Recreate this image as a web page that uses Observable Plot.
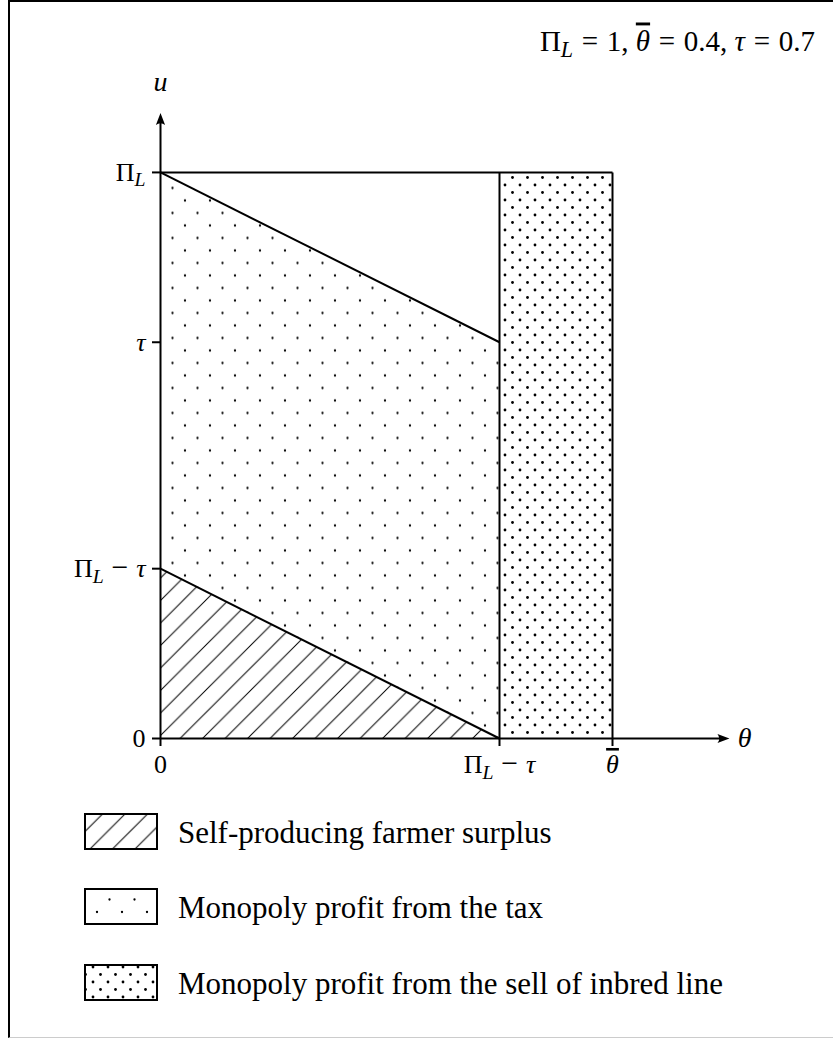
<!DOCTYPE html>
<html>
<head>
<meta charset="utf-8">
<script src="https://cdn.jsdelivr.net/npm/d3@7"></script>
<script src="https://cdn.jsdelivr.net/npm/@observablehq/plot@0.6"></script>
<style>
  html, body { margin: 0; padding: 0; background: #fff; }
  #wrap { position: relative; width: 833px; height: 1038px; overflow: hidden; font-family: "Liberation Serif", serif; }
  #chart { position: absolute; left: 0; top: 0; }
  #legend { position: absolute; left: 0; top: 790px; }
  #frame { position: absolute; left: 8px; top: 0px; width: 2000px; height: 1035px;
           border-left: 2.5px solid #000; border-top: 2.5px solid #000; border-bottom: 1px solid #ccc; pointer-events: none; }
</style>
</head>
<body>
<div id="wrap">
  <div id="chart"></div>
  <div id="legend"></div>
  <div id="frame"></div>
</div>
<script>
// ---- parameters / data ----
const titleText = "Π_L = 1, θ̄ = 0.4, τ = 0.7";
const xTicks = [0, 0.3, 0.4];
const xTickLabels = ["0", "Π_L − τ", "θ̄"];
const yTicks = [0, 0.3, 0.7, 1];
const yTickLabels = ["0", "Π_L − τ", "τ", "Π_L"];

// Self-producing farmer surplus (triangle), as area between lo and hi
const surplusTheta = [0, 0.3];
const surplusLo = [0, 0];
const surplusHi = [0.3, 0];

// Monopoly profit from the tax
const taxTheta = [0, 0.3];
const taxLo = [0.3, 0];
const taxHi = [1, 0.7];

// Monopoly profit from the sell of inbred line
const inbredTheta = [0.3, 0.4];
const inbredLo = [0, 0];
const inbredHi = [1, 1];

// boundary segments
const segX1 = [0, 0, 0.3, 0.4, 0];
const segY1 = [1, 1, 0, 0, 0.3];
const segX2 = [0.4, 0.3, 0.3, 0.4, 0.3];
const segY2 = [1, 0.7, 1, 1, 0];

// axes extents
const xAxisEnd = 0.5035;
const yAxisEnd = 1.105;

const legendLabels = [
  "Self-producing farmer surplus",
  "Monopoly profit from the tax",
  "Monopoly profit from the sell of inbred line"
];
const legendFills = ["hatch2", "sparse2", "dense2"];

// ---- build tables ----
const toRows = (t, lo, hi) => t.map((d, i) => ({t: d, lo: lo[i], hi: hi[i]}));
const surplus = toRows(surplusTheta, surplusLo, surplusHi);
const tax = toRows(taxTheta, taxLo, taxHi);
const inbred = toRows(inbredTheta, inbredLo, inbredHi);
const segs = segX1.map((d, i) => ({x1: d, y1: segY1[i], x2: segX2[i], y2: segY2[i]}));

const arrowSymbol = {
  draw(context, size) {
    context.moveTo(0, 0);
    context.lineTo(-12, -4.6);
    context.quadraticCurveTo(-8.5, 0, -12, 4.6);
    context.closePath();
  }
};

const TICK_FS = 26, LABEL_FS = 28, TITLE_FS = 29;
const W = 833, H = 790;
const plot = Plot.plot({
  width: W,
  height: H,
  marginLeft: 160,
  marginRight: 51.5,
  marginTop: 104,
  marginBottom: 52,
  style: {background: "transparent", fontFamily: "Liberation Serif, serif"},
  x: {domain: [0, 0.55]},
  y: {domain: [0, 1.12]},
  marks: [
    Plot.areaY(tax, {x: "t", y1: "lo", y2: "hi", fill: "url(#sparse)"}),
    Plot.areaY(surplus, {x: "t", y1: "lo", y2: "hi", fill: "url(#hatch)"}),
    Plot.areaY(inbred, {x: "t", y1: "lo", y2: "hi", fill: "url(#dense)"}),
    Plot.link(segs, {x1: "x1", y1: "y1", x2: "x2", y2: "y2", stroke: "#000", strokeWidth: 2}),
    Plot.link([{a: 0}], {x1: 0, y1: 0, x2: xAxisEnd - 0.008, y2: 0, stroke: "#000", strokeWidth: 2}),
    Plot.link([{a: 0}], {x1: 0, y1: 0, x2: 0, y2: yAxisEnd - 0.014, stroke: "#000", strokeWidth: 2}),
    Plot.dot([{a: 0}], {x: xAxisEnd, y: 0, symbol: arrowSymbol, fill: "#000", stroke: "none", r: 5}),
    Plot.dot([{a: 0}], {x: 0, y: yAxisEnd, symbol: arrowSymbol, rotate: -90, fill: "#000", stroke: "none", r: 5}),
    Plot.axisX({ticks: xTicks, tickFormat: d => xTickLabels[xTicks.indexOf(d)], tickSize: 8, tickPadding: 8,
      label: null, fontSize: TICK_FS, strokeWidth: 2, stroke: "#000", fill: "#000"}),
    Plot.axisY({ticks: yTicks, tickFormat: d => yTickLabels[yTicks.indexOf(d)], tickSize: 8, tickPadding: 7,
      label: null, fontSize: TICK_FS, strokeWidth: 2, stroke: "#000", fill: "#000"}),
    Plot.text(["θ"], {x: 0.517, y: 0, text: d => d, fontSize: LABEL_FS, fill: "#000", textAnchor: "middle"}),
    Plot.text(["u"], {x: 0, y: 1.159, text: d => d, fontSize: LABEL_FS, fill: "#000", textAnchor: "middle"}),
    Plot.text([titleText], {frameAnchor: "top-right", text: d => d, fontSize: TITLE_FS, fill: "#000",
      textAnchor: "end", lineAnchor: "bottom", dx: 33, dy: -54})
  ]
});

const defs = `
<pattern id="sparse" patternUnits="userSpaceOnUse" x="160" y="725.5" width="25" height="25">
  <circle cx="0" cy="0" r="1.15"/><circle cx="25" cy="0" r="1.15"/><circle cx="0" cy="25" r="1.15"/><circle cx="25" cy="25" r="1.15"/><circle cx="12.5" cy="12.5" r="1.15"/>
</pattern>
<pattern id="dense" patternUnits="userSpaceOnUse" x="505" y="575" width="15" height="15">
  <circle cx="0" cy="0" r="1.4"/><circle cx="15" cy="0" r="1.4"/><circle cx="0" cy="15" r="1.4"/><circle cx="15" cy="15" r="1.4"/><circle cx="7.5" cy="7.5" r="1.4"/>
</pattern>
<pattern id="hatch" patternUnits="userSpaceOnUse" x="160" y="736" width="22.5" height="22.5">
  <path d="M0,22.5L22.5,0M-2,2L2,-2M20.5,24.5L24.5,20.5" stroke="#000" stroke-width="1"/>
</pattern>`;
d3.select(plot).insert("defs", ":first-child").html(defs);

// math-like typesetting of labels
function texify(node, size) {
  const t = node.textContent;
  if (!t) return;
  const tokens = t.match(/_.|\s[=−]\s|θ\u0304|[a-zτθ]|./gu);
  const el = d3.select(node);
  el.text(null).attr("font-size", size);
  let pendDx = 0, pendDy = 0;
  const add = (txt) => {
    const s = el.append("tspan").text(txt);
    if (pendDx) { s.attr("dx", pendDx); pendDx = 0; }
    if (pendDy) { s.attr("dy", pendDy); pendDy = 0; }
    return s;
  };
  for (const tok of tokens) {
    if (tok.startsWith("_")) {
      const d = pendDy;
      pendDy = 0;
      add(tok.slice(1)).attr("font-style", "italic").attr("font-size", size * 0.76)
        .attr("dy", d + size * 0.22);
      pendDy = -size * 0.22;
      continue;
    }
    if (/^\s[=−]\s$/.test(tok)) {
      pendDx += size * 0.3;
      add(tok.trim()).attr("font-size", tok.trim() === "−" ? size * 1.15 : size);
      pendDx = size * 0.3;
    } else if (tok === "θ\u0304") {
      // theta with a bar over it
      add("θ").attr("font-style", "italic").style("text-decoration", "overline");
    } else {
      const s = add(tok);
      if (/[a-zτθ]/.test(tok)) s.attr("font-style", "italic");
    }
  }
}
const svgSel = d3.select(plot);
svgSel.selectAll('g[aria-label="x-axis tick label"] text, g[aria-label="y-axis tick label"] text')
  .each(function() { texify(this, TICK_FS); });
svgSel.selectAll('g[aria-label="text"] text').each(function() {
  const isTitle = this.textContent.length > 3;
  texify(this, isTitle ? TITLE_FS : LABEL_FS);
});
document.getElementById("chart").appendChild(plot);

// ---- legend ----
const lg = d3.select("#legend").append("svg").attr("width", 833).attr("height", 248)
  .style("font-family", "Liberation Serif, serif");
lg.append("defs").html(`
<pattern id="hatch2" patternUnits="userSpaceOnUse" x="84" y="20" width="22.5" height="22.5">
  <path d="M0,22.5L22.5,0M-2,2L2,-2M20.5,24.5L24.5,20.5" stroke="#000" stroke-width="1"/>
</pattern>
<pattern id="sparse2" patternUnits="userSpaceOnUse" x="97" y="97" width="25" height="25">
  <circle cx="0" cy="0" r="1.15"/><circle cx="25" cy="0" r="1.15"/><circle cx="0" cy="25" r="1.15"/><circle cx="25" cy="25" r="1.15"/><circle cx="12.5" cy="12.5" r="1.15"/>
</pattern>
<pattern id="dense2" patternUnits="userSpaceOnUse" x="93" y="177" width="15" height="15">
  <circle cx="0" cy="0" r="1.4"/><circle cx="15" cy="0" r="1.4"/><circle cx="0" cy="15" r="1.4"/><circle cx="15" cy="15" r="1.4"/><circle cx="7.5" cy="7.5" r="1.4"/>
</pattern>`);
const rowY = [24, 99, 175];
legendLabels.forEach((lab, i) => {
  lg.append("rect").attr("x", 85).attr("y", rowY[i]).attr("width", 72).attr("height", 35)
    .attr("fill", `url(#${legendFills[i]})`).attr("stroke", "#000").attr("stroke-width", 2);
  lg.append("text").attr("x", 178).attr("y", rowY[i] + 18).attr("dy", "0.35em")
    .attr("font-size", 31).attr("fill", "#000").text(lab);
});
</script>
</body>
</html>
